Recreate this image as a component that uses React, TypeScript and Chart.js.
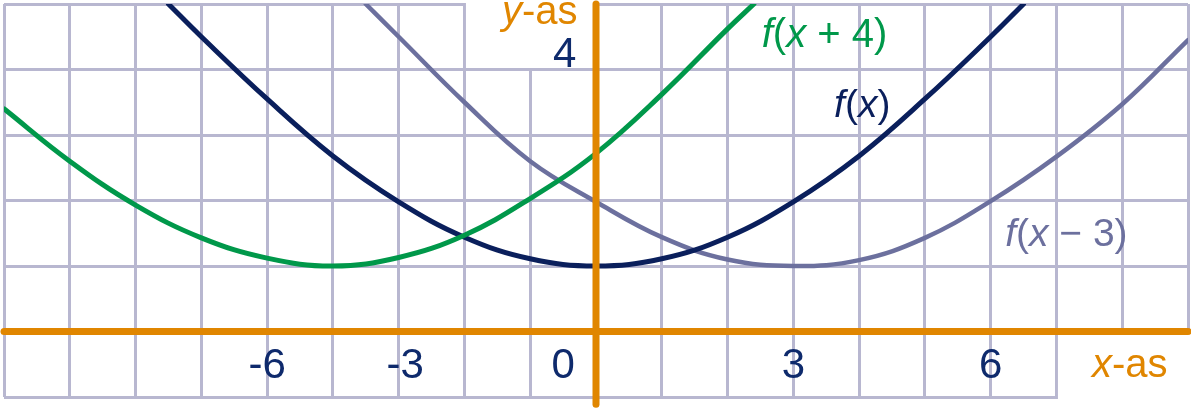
import React, { useEffect, useRef } from "react";
import { Chart, registerables } from "chart.js";

Chart.register(...registerables);

const FONT = "'Liberation Sans', Arial, Helvetica, sans-serif";
const GRID = "#b8b7d0";
const ORANGE = "#e08600";
const NAVY = "#0a1f5c";
const TICK_NAVY = "#0e2a6c";
const GREEN = "#00984a";
const GRAY = "#6c709e";

// axis ranges
const xRange = [-9, 9];
const yRange = [-1, 5];
const yAxisLineRange = [-1.11, 5];

// f(x)
const fXs = [-6.5, -6, -5, -4, -3, -2, -1, 0, 1, 2, 3, 4, 5, 6, 6.5];
const fYs = [5.0, 4.5, 3.55, 2.68, 1.98, 1.44, 1.11, 1.0, 1.11, 1.44, 1.98, 2.68, 3.55, 4.5, 5.0];
// f(x − 3)
const gXs = [-3.5, -3, -2, -1, 0, 1, 2, 3, 4, 5, 6, 7, 8, 9];
const gYs = [5.0, 4.5, 3.5, 2.6, 1.98, 1.44, 1.1, 1.0, 1.09, 1.43, 1.99, 2.67, 3.47, 4.45];
// f(x + 4)
const hXs = [-9, -8, -7, -6, -5, -4, -3, -2, -1, 0, 1, 2, 2.4];
const hYs = [3.4, 2.6, 1.93, 1.43, 1.12, 1.0, 1.13, 1.47, 2.03, 2.72, 3.62, 4.62, 5.0];

// tick labels (placed where the picture shows them)
const xTickValues = [-5, -2.9, -0.5, 3, 6];
const xTickLabels = ["-6", "-3", "0", "3", "6"];
const yTickValues = [4];
const yTickLabels = ["4"];
const yTickColumn = -0.3; // x value at which the y tick labels end

// grid cells cleared for the axis titles: [x0, x1, y0, y1]
const clearedCells = [
  [-2, 0, 4, 5],
  [7, 9, -1, 0],
];

// text annotations: runs of [text, italic]
const textLabels = [
  { runs: [["f", 1], ["(", 0], ["x", 1], [" + 4)", 0]], x: 2.52, y: 4.34, color: GREEN, size: 40 },
  { runs: [["f", 1], ["(", 0], ["x", 1], [")", 0]], x: 3.62, y: 3.28, color: NAVY, size: 39 },
  { runs: [["f", 1], ["(", 0], ["x", 1], [" − 3)", 0]], x: 6.22, y: 1.3, color: GRAY, size: 39 },
  { runs: [["y", 1], ["-as", 0]], x: -1.43, y: 4.7, color: ORANGE, size: 40 },
  { runs: [["x", 1], ["-as", 0]], x: 7.54, y: -0.7, color: ORANGE, size: 40 },
];

const pts = (xs: number[], ys: number[]) => xs.map((x, i) => ({ x, y: ys[i] }));

const overlayPlugin = {
  id: "overlay",
  beforeDatasetsDraw(chart: any) {
    const { ctx, scales } = chart;
    const sx = scales.x;
    const sy = scales.y;
    const half = 1.5;
    ctx.save();
    ctx.fillStyle = "#ffffff";
    for (const [x0, x1, y0, y1] of clearedCells) {
      const left = sx.getPixelForValue(x0) + (x0 <= xRange[0] ? -2 : half);
      const right = sx.getPixelForValue(x1) + (x1 >= xRange[1] ? 2 : -half);
      const top = sy.getPixelForValue(y1) + (y1 >= yRange[1] ? -2 : half);
      const bottom = sy.getPixelForValue(y0) + (y0 <= yRange[0] ? 2 : -half);
      ctx.fillRect(left, top, right - left, bottom - top);
    }
    ctx.restore();
  },
  afterDatasetsDraw(chart: any) {
    const { ctx, scales } = chart;
    const sx = scales.x;
    const sy = scales.y;
    ctx.save();
    ctx.textBaseline = "alphabetic";
    ctx.textAlign = "left";
    for (const lab of textLabels) {
      let px = sx.getPixelForValue(lab.x);
      const py = sy.getPixelForValue(lab.y);
      ctx.fillStyle = lab.color;
      for (const [t, it] of lab.runs as any) {
        ctx.font = `${it ? "italic " : ""}${lab.size}px ${FONT}`;
        ctx.fillText(t, px, py);
        px += ctx.measureText(t).width;
      }
    }
    ctx.restore();
  },
};

export default function App() {
  const ref = useRef<HTMLCanvasElement>(null);
  useEffect(() => {
    document.body.style.margin = "0";
    const canvas = ref.current!;
    const curve = (label: string, xs: number[], ys: number[], color: string, width: number) => ({
      label,
      data: pts(xs, ys),
      borderColor: color,
      borderWidth: width,
      pointRadius: 0,
      fill: false,
      tension: 0.4,
      borderCapStyle: "round" as const,
    });
    const chart = new Chart(canvas, {
      type: "line",
      data: {
        datasets: [
          {
            label: "x-as",
            data: pts(xRange, [0, 0]),
            borderColor: ORANGE,
            borderWidth: 7,
            pointRadius: 0,
            borderCapStyle: "round",
            clip: false,
          } as any,
          {
            label: "y-as",
            data: pts([0, 0], yAxisLineRange),
            borderColor: ORANGE,
            borderWidth: 7,
            pointRadius: 0,
            borderCapStyle: "round",
            clip: false,
          } as any,
          curve("f(x + 4)", hXs, hYs, GREEN, 5),
          curve("f(x)", fXs, fYs, NAVY, 5),
          curve("f(x − 3)", gXs, gYs, GRAY, 4.5),
        ],
      },
      options: {
        animation: false,
        responsive: false,
        events: [],
        layout: { padding: { left: 4, right: 3, top: 4, bottom: 14 } },
        plugins: { legend: { display: false }, tooltip: { enabled: false } },
        scales: {
          x: {
            type: "linear",
            min: xRange[0],
            max: xRange[1],
            ticks: { display: false, stepSize: 1 },
            grid: { color: GRID, lineWidth: 3, drawTicks: false },
            border: { display: false },
          },
          y: {
            type: "linear",
            min: yRange[0],
            max: yRange[1],
            ticks: { display: false, stepSize: 1 },
            grid: { color: GRID, lineWidth: 3, drawTicks: false },
            border: { display: false },
          },
          xl: {
            type: "linear",
            axis: "x",
            position: { y: 0 },
            min: xRange[0],
            max: xRange[1],
            grid: { display: false, drawTicks: false },
            border: { display: false },
            afterBuildTicks: (s: any) => {
              s.ticks = xTickValues.map((v) => ({ value: v }));
            },
            afterFit: (s: any) => {
              s.paddingLeft = 0;
              s.paddingRight = 0;
            },
            ticks: {
              z: 1,
              autoSkip: false,
              maxRotation: 0,
              minRotation: 0,
              padding: 10,
              color: TICK_NAVY,
              font: { family: FONT, size: 42 },
              callback: (_v: any, i: number) => xTickLabels[i],
            },
          } as any,
          yl: {
            type: "linear",
            axis: "y",
            position: { x: yTickColumn },
            min: yRange[0],
            max: yRange[1],
            grid: { display: false, drawTicks: false },
            border: { display: false },
            afterBuildTicks: (s: any) => {
              s.ticks = yTickValues.map((v) => ({ value: v }));
            },
            afterFit: (s: any) => {
              s.paddingTop = 0;
              s.paddingBottom = 0;
            },
            ticks: {
              z: 1,
              autoSkip: false,
              padding: 0,
              labelOffset: -14,
              color: TICK_NAVY,
              font: { family: FONT, size: 42 },
              callback: (_v: any, i: number) => yTickLabels[i],
            },
          } as any,
        },
      },
      plugins: [overlayPlugin],
    });
    return () => chart.destroy();
  }, []);
  return (
    <div style={{ width: 1191, height: 411 }}>
      <canvas ref={ref} width={1191} height={411} style={{ display: "block" }} />
    </div>
  );
}
